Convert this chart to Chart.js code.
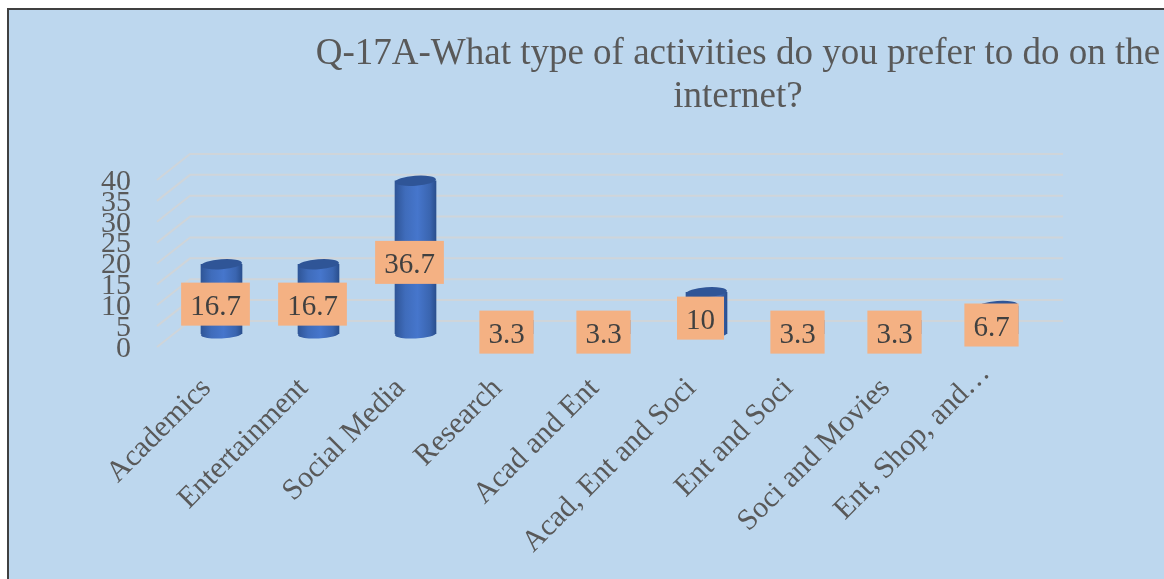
<!DOCTYPE html>
<html>
<head>
<meta charset="utf-8">
<title>Q-17A</title>
<script src="https://cdn.jsdelivr.net/npm/chart.js@4/dist/chart.umd.min.js"></script>
<style>
  html, body { margin: 0; padding: 0; background: #fff; }
  canvas { display: block; }
</style>
</head>
<body>
<canvas id="activities-chart" width="1164" height="579"></canvas>
<script>
const categories = ['Academics', 'Entertainment', 'Social Media', 'Research', 'Acad and Ent',
  'Acad, Ent and Soci', 'Ent and Soci', 'Soci and Movies', 'Ent, Shop, and…'];
const percentages = [16.7, 16.7, 36.7, 3.3, 3.3, 10, 3.3, 3.3, 6.7];
const titleLines = ['Q-17A-What type of activities do you prefer to do on the', 'internet?'];

const serif = '"Liberation Serif", "Times New Roman", serif';

// Fake 3D: bars sit on the middle plane, the grid is pushed back, the floor edge forward
const backX = 17, backY = -13, frontX = -16, frontY = 13;

// Panel behind everything, with the dark border on the top and left
const panel = {
  id: 'panel',
  beforeDraw(chart) {
    const { ctx, width, height } = chart;
    ctx.save();
    ctx.fillStyle = '#ffffff';
    ctx.fillRect(0, 0, width, height);
    ctx.fillStyle = '#404040';
    ctx.fillRect(7, 8, width - 7, height - 8);
    ctx.fillStyle = '#bdd7ee';
    ctx.fillRect(9, 10, width - 9, height - 10);
    ctx.restore();
  },
  afterLayout(chart) {
    // Title is centred over the bars, not the canvas
    chart.titleBlock.left = 300;
    chart.titleBlock.right = 1176;

    // The truncated last label sits higher than the others
    const last = chart.scales.x.getLabelItems().at(-1);
    last.options.translation[0] += 3;
    last.options.translation[1] -= 15;
  }
};

// Back wall lines and the slanted side wall lines
const depthGrid = {
  id: 'depthGrid',
  beforeDatasetsDraw(chart) {
    const { ctx, chartArea, scales } = chart;
    ctx.save();
    ctx.strokeStyle = '#cfd5da';
    ctx.lineWidth = 2;
    scales.y.ticks.forEach(tick => {
      const y = scales.y.getPixelForValue(tick.value);
      ctx.beginPath();
      ctx.moveTo(chartArea.left + frontX, y + frontY);
      ctx.lineTo(chartArea.left + backX, y + backY);
      ctx.lineTo(chartArea.right + backX, y + backY);
      ctx.stroke();
    });
    ctx.restore();
  }
};

// Cylinder caps on the bars, then the value boxes
const cylinders = {
  id: 'cylinders',
  afterDatasetsDraw(chart) {
    const { ctx } = chart;
    const bars = chart.getDatasetMeta(0).data;
    ctx.save();
    bars.forEach(bar => {
      const rx = bar.width / 2;
      ctx.fillStyle = barGradient(ctx, bar.x, rx);
      ctx.beginPath();
      ctx.ellipse(bar.x, bar.base, rx, 4.5, -0.05, 0, Math.PI * 2);
      ctx.fill();
      ctx.fillStyle = '#2f5597';
      ctx.beginPath();
      ctx.ellipse(bar.x, bar.y, rx, 5, -0.07, 0, Math.PI * 2);
      ctx.fill();
    });

    ctx.font = '29px ' + serif;
    ctx.textAlign = 'center';
    ctx.textBaseline = 'middle';
    bars.forEach((bar, i) => {
      const text = String(percentages[i]);
      const w = ctx.measureText(text).width + 18;
      const cx = bar.x - 6;
      const cy = (bar.y + bar.base) / 2 + 5;
      ctx.fillStyle = '#f4b183';
      ctx.fillRect(cx - w / 2, cy - 21.5, w, 43);
      ctx.fillStyle = '#404040';
      ctx.fillText(text, cx, cy + 3);
    });
    ctx.restore();
  }
};

function barGradient(ctx, x, rx) {
  const g = ctx.createLinearGradient(x - rx, 0, x + rx, 0);
  g.addColorStop(0, '#2f5597');
  g.addColorStop(0.25, '#3f6cbb');
  g.addColorStop(0.55, '#4676cc');
  g.addColorStop(0.85, '#3a65b0');
  g.addColorStop(1, '#2a4f8e');
  return g;
}

new Chart(document.getElementById('activities-chart'), {
  type: 'bar',
  data: {
    labels: categories,
    datasets: [{
      data: percentages,
      barThickness: 41,
      backgroundColor(context) {
        const chart = context.chart;
        if (!chart.chartArea) return '#4472c4';
        return barGradient(chart.ctx, chart.scales.x.getPixelForValue(context.dataIndex), 20.5);
      }
    }]
  },
  options: {
    responsive: false,
    animation: false,
    layout: { padding: { right: 118 } },
    plugins: {
      legend: { display: false },
      tooltip: { enabled: false },
      title: {
        display: true,
        text: titleLines,
        color: '#595959',
        font: { family: serif, size: 37, weight: 'normal', lineHeight: 1.162 },
        padding: { top: 33, bottom: 48 }
      }
    },
    scales: {
      x: {
        grid: { display: false, drawTicks: false },
        border: { display: false },
        afterFit(scale) { scale.height = 245; },
        ticks: {
          autoSkip: false,
          minRotation: 45,
          maxRotation: 45,
          padding: 37,
          labelOffset: -15,
          color: '#595959',
          font: { family: serif, size: 30 }
        }
      },
      y: {
        min: 0,
        max: 40,
        grid: { display: false, drawTicks: false },
        border: { display: false },
        afterFit(scale) { scale.width = 173; },
        ticks: {
          autoSkip: false,
          stepSize: 5,
          padding: 42,
          labelOffset: 15,
          color: '#595959',
          font: { family: serif, size: 30 }
        }
      }
    }
  },
  plugins: [panel, depthGrid, cylinders]
});
</script>
</body>
</html>
